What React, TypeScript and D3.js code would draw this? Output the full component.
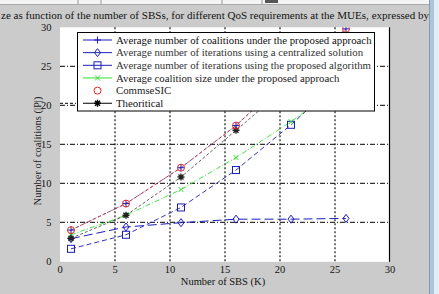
import React from "react";
import * as d3 from "d3";

const K = [1, 6, 11, 16, 21, 26];
const coalitionsProposed = [4.0, 7.4, 12.0, 17.4, 24.0, 29.8];
const commseSIC = [4.0, 7.4, 12.0, 17.4, 24.0, 29.8];
const theoretical = [2.95, 5.9, 10.8, 16.8, 22.8, 28.8];
const coalitionSize = [3.4, 5.9, 9.2, 13.3, 17.9, 23.0];
const iterProposed = [1.6, 3.4, 6.9, 11.7, 17.5, 24.0];
const iterCentral = [2.9, 4.4, 4.95, 5.4, 5.4, 5.5];
const xTicks = [0, 5, 10, 15, 20, 25, 30];
const yTicks = [0, 5, 10, 15, 20, 25, 30];
const legendLabels = [
  "Average number of coalitions under the proposed approach",
  "Average number of iterations using a centralized solution",
  "Average number of iterations using the proposed algorithm",
  "Average coalition size under the proposed approach",
  "CommseSIC",
  "Theoritical",
];
const titleText =
  "ze as function of the number of SBSs, for different QoS requirements at the MUEs, expressed by ";

const BLUE = "#1c1cb8";
const RED = "#e02828";
const GREEN = "#30e030";
const BLACK = "#000";
const FONT = "'Times New Roman', 'Liberation Serif', 'DejaVu Serif', serif";

type MarkerKind = "plus" | "diamond" | "square" | "x" | "circle" | "star";

function Marker({ kind, x, y, color }: { kind: MarkerKind; x: number; y: number; color: string }) {
  const s = 3.5;
  const common = { stroke: color, strokeWidth: 1, fill: "none" };
  switch (kind) {
    case "plus":
      return <path d={`M${x - s},${y}H${x + s}M${x},${y - s}V${y + s}`} {...common} />;
    case "diamond":
      return <path d={`M${x},${y - s - 0.5}L${x + s - 0.5},${y}L${x},${y + s + 0.5}L${x - s + 0.5},${y}Z`} {...common} />;
    case "square":
      return <rect x={x - s} y={y - s} width={2 * s} height={2 * s} {...common} />;
    case "x":
      return <path d={`M${x - 2.5},${y - 2.5}L${x + 2.5},${y + 2.5}M${x - 2.5},${y + 2.5}L${x + 2.5},${y - 2.5}`} {...common} />;
    case "circle":
      return <circle cx={x} cy={y} r={s} {...common} />;
    case "star":
      return (
        <path
          d={`M${x - s},${y}H${x + s}M${x},${y - s}V${y + s}M${x - 2.5},${y - 2.5}L${x + 2.5},${y + 2.5}M${x - 2.5},${y + 2.5}L${x + 2.5},${y - 2.5}`}
          {...common}
          strokeWidth={1.4}
        />
      );
  }
  return null;
}

export default function App() {
  const W = 439;
  const H = 294;
  const x = d3.scaleLinear().domain([0, 30]).range([60, 390]);
  const y = d3.scaleLinear().domain([0, 30]).range([261.3, 27.3]);
  const line = d3
    .line<number>()
    .x((_, i) => x(K[i]))
    .y((d) => y(d));

  const series: { data: number[]; color: string; dash: string; marker: MarkerKind; width: number }[] = [
    { data: iterCentral, color: BLUE, dash: "9,4", marker: "diamond", width: 1 },
    { data: iterProposed, color: BLUE, dash: "5,3", marker: "square", width: 0.9 },
    { data: coalitionSize, color: GREEN, dash: "5,2,1,2", marker: "x", width: 0.9 },
    { data: coalitionsProposed, color: BLUE, dash: "3,3", marker: "plus", width: 0.7 },
    { data: theoretical, color: "#222", dash: "3,2", marker: "star", width: 0.7 },
    { data: commseSIC, color: RED, dash: "3,2", marker: "circle", width: 0.8 },
  ];

  const legendItems: { color: string; marker: MarkerKind; showLine: boolean; textColor: string }[] = [
    { color: BLUE, marker: "plus", showLine: true, textColor: "#111" },
    { color: BLUE, marker: "diamond", showLine: true, textColor: "#333" },
    { color: BLUE, marker: "square", showLine: true, textColor: "#333" },
    { color: GREEN, marker: "x", showLine: true, textColor: "#222" },
    { color: RED, marker: "circle", showLine: false, textColor: "#222" },
    { color: BLACK, marker: "star", showLine: true, textColor: "#111" },
  ];

  const plotL = 60, plotR = 389.5, plotT = 27.3, plotB = 261.8;
  const ts = { fontFamily: FONT };

  return (
    <svg
      width={W}
      height={H}
      style={{ position: "fixed", left: 0, top: 0, display: "block", fontFamily: FONT }}
    >
      <defs>
        <clipPath id="plotClip">
          <rect x={plotL} y={plotT} width={plotR - plotL} height={plotB - plotT} />
        </clipPath>
      </defs>
      {/* window background */}
      <rect x={0} y={0} width={W} height={H} fill="#cbcbcb" />
      {/* top toolbar strip */}
      <rect x={0} y={0} width={429} height={4} fill="#f4f4f4" />
      <line x1={0} x2={429} y1={4.5} y2={4.5} stroke="#aaa" />
      {[78, 101, 222, 262].map((v) => (
        <line key={v} x1={v} x2={v} y1={0} y2={4} stroke="#999" />
      ))}
      <rect x={265} y={0} width={13} height={3} fill="#555" />
      {/* right window edge */}
      <line x1={429.5} x2={429.5} y1={0} y2={H} stroke="#8a9aa8" />
      <rect x={430} y={0} width={4} height={H} fill="#a9c6dc" />
      <rect x={434} y={0} width={5} height={H} fill="#e4ecf2" />

      {/* title */}
      <text x={1} y={18.5} fontSize={10.5} fill="#111" style={ts} textLength={428} lengthAdjust="spacingAndGlyphs">
        {titleText}
      </text>

      {/* plot area */}
      <rect x={plotL} y={plotT} width={plotR - plotL} height={plotB - plotT} fill="#fff" />

      {/* grid */}
      {xTicks.slice(1, -1).map((t) => (
        <line key={"gx" + t} x1={x(t)} x2={x(t)} y1={plotT} y2={plotB} stroke="#000" strokeWidth={1.1} strokeDasharray="2,2" />
      ))}
      {yTicks.slice(1, -1).map((t) => (
        <line key={"gy" + t} x1={plotL} x2={plotR} y1={y(t)} y2={y(t)} stroke="#000" strokeWidth={1} strokeDasharray="5,2,1,2" />
      ))}
      <line x1={plotR} x2={plotR} y1={plotT} y2={plotB} stroke="#000" strokeWidth={1.2} />

      {/* series */}
      <g clipPath="url(#plotClip)">
        {series.map((s, i) => (
          <path key={"l" + i} d={line(s.data) || ""} fill="none" stroke={s.color} strokeWidth={s.width} strokeDasharray={s.dash} />
        ))}
        {series.map((s, i) =>
          s.data.map((v, j) => <Marker key={"m" + i + "-" + j} kind={s.marker} x={x(K[j])} y={y(v)} color={s.color} />)
        )}
      </g>

      {/* tick labels */}
      {yTicks.map((t) => (
        <text key={"yl" + t} x={51.5} y={y(t) + 3.5} fontSize={10.5} textAnchor="end" fill="#111" style={ts}>
          {t}
        </text>
      ))}
      {xTicks.map((t) => (
        <text key={"xl" + t} x={x(t)} y={273} fontSize={10.5} textAnchor="middle" fill="#111" style={ts}>
          {t}
        </text>
      ))}
      <text x={223} y={285} fontSize={10.5} textAnchor="middle" fill="#111" style={ts}>
        Number of SBS (K)
      </text>
      <text
        transform={`translate(40.5,151) rotate(-90)`}
        fontSize={10.5}
        textAnchor="middle"
        fill="#222"
        style={ts}
      >
        Number of coalitions (|P|)
      </text>

      {/* stray dashed fragment left of legend */}
      <line x1={60} x2={76} y1={103.3} y2={103.3} stroke="#000" strokeDasharray="3,2" />

      {/* legend */}
      <rect x={77.5} y={32.5} width={297} height={78.5} fill="#fff" stroke="#000" strokeWidth={1} />
      {legendItems.map((it, i) => {
        const ly = 40 + i * 12.65;
        return (
          <g key={"lg" + i}>
            {it.showLine && <line x1={83} x2={112} y1={ly} y2={ly} stroke={it.color} strokeWidth={1} />}
            <Marker kind={it.marker} x={97.5} y={ly} color={it.color} />
            <text x={116} y={ly + 3.6} fontSize={10.8} fill={it.textColor} style={ts}>
              {legendLabels[i]}
            </text>
          </g>
        );
      })}
    </svg>
  );
}
